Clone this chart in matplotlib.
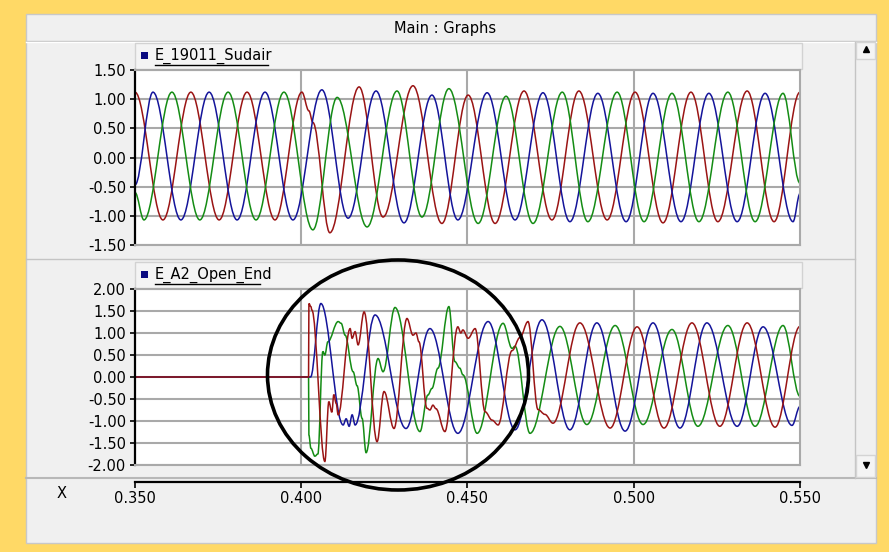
import matplotlib
matplotlib.use("Agg")
import matplotlib.pyplot as plt
from matplotlib.path import Path
from matplotlib.patches import PathPatch, Rectangle, Ellipse
from matplotlib.lines import Line2D

# ---- dados (extremos de cada fase, tempo em s) ----
# painel superior: E_19011_Sudair
sud_red_t = [0.3500, 0.3584, 0.3668, 0.3753, 0.3837, 0.3921, 0.4002, 0.4023, 0.4035, 0.4086,
             0.4174, 0.4246, 0.4336, 0.4423, 0.4502, 0.4583, 0.4670, 0.4754, 0.4835, 0.4920,
             0.5004, 0.5088, 0.5172, 0.5253, 0.5341, 0.5422, 0.5500]
sud_red_v = [1.12, -1.07, 1.12, -1.07, 1.12, -1.07, 1.12, 0.80, 0.60, -1.29,
             1.21, -1.02, 1.23, -1.13, 1.07, -1.13, 1.14, -1.07, 1.14, -1.07,
             1.12, -1.12, 1.12, -1.10, 1.14, -1.10, 1.12]
sud_blue_t = [0.3500, 0.3554, 0.3638, 0.3723, 0.3807, 0.3891, 0.3975, 0.4062, 0.4141, 0.4225,
              0.4309, 0.4393, 0.4471, 0.4559, 0.4643, 0.4727, 0.4808, 0.4892, 0.4977, 0.5058,
              0.5142, 0.5226, 0.5311, 0.5395, 0.5479, 0.5500]
sud_blue_v = [-0.47, 1.12, -1.07, 1.12, -1.07, 1.12, -1.07, 1.16, -1.04, 1.14,
              -1.12, 1.07, -1.07, 1.11, -1.07, 1.11, -1.10, 1.10, -1.10, 1.10,
              -1.10, 1.10, -1.10, 1.10, -1.10, -0.62]
sud_green_t = [0.3500, 0.3527, 0.3611, 0.3695, 0.3780, 0.3864, 0.3948, 0.4035, 0.4108, 0.4198,
               0.4288, 0.4363, 0.4444, 0.4532, 0.4616, 0.4697, 0.4785, 0.4862, 0.4950, 0.5031,
               0.5115, 0.5196, 0.5283, 0.5365, 0.5449, 0.5500]
sud_green_v = [-0.60, -1.07, 1.12, -1.07, 1.12, -1.07, 1.12, -1.24, 1.03, -1.19,
               1.14, -1.02, 1.18, -1.13, 1.05, -1.13, 1.12, -1.10, 1.12, -1.10,
               1.10, -1.10, 1.12, -1.10, 1.10, -0.44]

# painel inferior: E_A2_Open_End
ope_red_t = [0.3500, 0.4022, 0.4023, 0.4029, 0.4032, 0.4071, 0.4083, 0.4092, 0.4098, 0.4105,
             0.4111, 0.4147, 0.4153, 0.4162, 0.4171, 0.4189, 0.4228, 0.4249, 0.4279, 0.4318,
             0.4336, 0.4345, 0.4354, 0.4378, 0.4387, 0.4396, 0.4405, 0.4432, 0.4471, 0.4480,
             0.4486, 0.4502, 0.4523, 0.4553, 0.4574, 0.4592, 0.4634, 0.4658, 0.4682, 0.4712,
             0.4733, 0.4757, 0.4838, 0.4929, 0.5010, 0.5091, 0.5175, 0.5259, 0.5341, 0.5425,
             0.5500]
ope_red_v = [0, 0, 1.67, 1.60, 1.52, -1.92, -0.56, -0.80, -0.40, -0.60,
             -0.86, 1.10, 0.88, 1.03, 0.73, 1.48, -1.47, -0.33, -1.17, 1.33,
             0.95, 1.00, 0.80, -0.71, -0.75, -0.64, -0.72, -1.24, 1.14, 1.00,
             1.07, 0.88, 1.10, -0.79, -0.98, -1.09, 0.60, 0.90, 1.26, -0.74,
             -0.85, -1.05, 1.23, -1.16, 1.14, -1.16, 1.23, -1.12, 1.23, -1.14,
             1.15]
ope_blue_t = [0.3500, 0.4028, 0.4059, 0.4126, 0.4135, 0.4144, 0.4153, 0.4162, 0.4222, 0.4315,
              0.4387, 0.4471, 0.4562, 0.4643, 0.4724, 0.4808, 0.4889, 0.4974, 0.5058, 0.5139,
              0.5220, 0.5311, 0.5389, 0.5476, 0.5500]
ope_blue_v = [0, 0, 1.67, -1.09, -0.95, -1.12, -0.86, -1.09, 1.41, -1.17,
              1.10, -1.28, 1.26, -1.20, 1.30, -1.20, 1.23, -1.23, 1.23, -1.16,
              1.23, -1.12, 1.14, -1.10, -0.67]
ope_green_t = [0.3500, 0.4022, 0.4023, 0.4029, 0.4041, 0.4050, 0.4065, 0.4071, 0.4080, 0.4111,
               0.4120, 0.4132, 0.4156, 0.4168, 0.4183, 0.4195, 0.4231, 0.4246, 0.4282, 0.4357,
               0.4381, 0.4393, 0.4411, 0.4444, 0.4462, 0.4477, 0.4486, 0.4529, 0.4607, 0.4634,
               0.4643, 0.4688, 0.4778, 0.4859, 0.4944, 0.5028, 0.5115, 0.5193, 0.5283, 0.5365,
               0.5449, 0.5500]
ope_green_v = [0, 0, -1.32, -1.62, -1.80, -1.75, 0.58, 0.50, 0.80, 1.26,
               1.22, 0.95, 0.12, -0.20, -0.94, -1.72, 0.42, 0.12, 1.58, -1.24,
               -0.41, -0.26, 0.20, 1.60, 0.35, 0.20, 0.05, -1.28, 1.22, 0.65,
               0.70, -1.28, 1.15, -1.08, 1.17, -1.08, 1.08, -1.12, 1.17, -1.12,
               1.17, -0.44]

sud_ticks = [-1.5, -1.0, -0.5, 0.0, 0.5, 1.0, 1.5]
ope_ticks = [-2.0, -1.5, -1.0, -0.5, 0.0, 0.5, 1.0, 1.5, 2.0]
x_ticks = [0.35, 0.40, 0.45, 0.50, 0.55]
titulos = ["E_19011_Sudair", "E_A2_Open_End"]

W, H = 889, 552
AZUL, VERMELHO, VERDE = '#14149a', '#9a1414', '#148c14'
GRADE = '#a9a9a9'
FONTE = 10.5


def box(x0, y0, x1, y1):
    # caixa em pixels da imagem -> fração da figura
    return [x0 / W, 1 - y1 / H, (x1 - x0) / W, (y1 - y0) / H]


def fx(x):
    return x / W


def fy(y):
    return 1 - y / H


def curva(ts, vs, k=0.36):
    # curva suave pelos extremos lidos (bezier desenhada pelo próprio matplotlib)
    verts = [(ts[0], vs[0])]
    codes = [Path.MOVETO]
    for i in range(1, len(ts)):
        dt = ts[i] - ts[i - 1]
        verts += [(ts[i - 1] + k * dt, vs[i - 1]), (ts[i] - k * dt, vs[i]), (ts[i], vs[i])]
        codes += [Path.CURVE4] * 3
    return Path(verts, codes)


def retangulo(x0, y0, x1, y1, fc, ec='none', lw=1.0, z=-5):
    r = Rectangle((fx(x0), fy(y1)), (x1 - x0) / W, (y1 - y0) / H, transform=fig.transFigure,
                  facecolor=fc, edgecolor=ec, linewidth=lw, zorder=z)
    fig.add_artist(r)


def linha(xs, ys, cor, lw=1.0, z=-4):
    fig.add_artist(Line2D([fx(x) for x in xs], [fy(y) for y in ys], transform=fig.transFigure,
                          color=cor, lw=lw, zorder=z))


fig = plt.figure(figsize=(W / 100, H / 100), dpi=100, facecolor='#ffd966')

# janela
retangulo(26, 14, 876, 543, '#f0f0f0', '#c8c8c8')
linha([26, 876], [41, 41], '#c4c4c4')
linha([26, 876], [42, 42], '#ffffff')
fig.text(fx(445), fy(28), "Main : Graphs", ha='center', va='center', fontsize=FONTE)

# separadores dos painéis e barra de rolagem
linha([26, 855], [259.5, 259.5], '#c4c4c4')
linha([26, 876], [478, 478], '#b8b8b8', lw=1.5)
linha([855, 855], [42, 478], '#c4c4c4')
retangulo(856, 42, 875, 59, '#f4f4f4', '#d4d4d4', z=-4)
retangulo(856, 455, 875, 477, '#f4f4f4', '#d4d4d4', z=-4)
fig.add_artist(Line2D([fx(866)], [fy(49)], transform=fig.transFigure, marker='^',
                      markersize=4, color='black', lw=0))
fig.add_artist(Line2D([fx(866)], [fy(465)], transform=fig.transFigure, marker='v',
                      markersize=4, color='black', lw=0))

# cabeçalhos com o nome de cada gráfico
for y0, y1, nome in [(43, 69, titulos[0]), (262, 288, titulos[1])]:
    retangulo(135, y0, 802, y1, '#f4f4f4', '#d2d2d2', z=-4)
    retangulo(141, y0 + 9, 148, y0 + 16, '#0a0a80', z=-3)
    t = fig.text(fx(155), fy(y0 + 13), nome, ha='left', va='center', fontsize=FONTE)
    largura = len(nome) * 8.1
    linha([155, 155 + largura], [y0 + 22, y0 + 22], 'black', lw=1.0, z=-3)

paineis = [
    (box(135, 70, 800, 245), sud_ticks,
     [(sud_red_t, sud_red_v, VERMELHO), (sud_blue_t, sud_blue_v, AZUL), (sud_green_t, sud_green_v, VERDE)]),
    (box(135, 289, 800, 465), ope_ticks,
     [(ope_green_t, ope_green_v, VERDE), (ope_blue_t, ope_blue_v, AZUL), (ope_red_t, ope_red_v, VERMELHO)]),
]

for pos, ticks, series in paineis:
    ax = fig.add_axes(pos)
    ax.set_facecolor('white')
    for ts, vs, cor in series:
        ax.add_patch(PathPatch(curva(ts, vs), facecolor='none', edgecolor=cor, lw=1.1))
    ax.set_xlim(x_ticks[0], x_ticks[-1])
    ax.set_ylim(ticks[0], ticks[-1])
    ax.set_yticks(ticks)
    ax.set_yticklabels(['%.2f' % v for v in ticks], fontsize=FONTE)
    ax.set_xticks(x_ticks[1:-1])
    ax.tick_params(axis='x', length=0, labelbottom=False)
    ax.tick_params(axis='y', direction='out', length=3.5, width=1.2, pad=3, colors='black')
    ax.grid(True, color=GRADE, lw=1.5)
    ax.set_axisbelow(True)
    for lado in ['top', 'right', 'bottom']:
        ax.spines[lado].set_color(GRADE)
        ax.spines[lado].set_linewidth(1.5)
    ax.spines['left'].set_color('black')
    ax.spines['left'].set_linewidth(1.6)

# eixo x comum
axx = fig.add_axes(box(135, 470, 800, 482))
axx.patch.set_visible(False)
axx.set_xlim(x_ticks[0], x_ticks[-1])
axx.set_xticks(x_ticks)
axx.set_xticklabels(['%.3f' % v for v in x_ticks], fontsize=FONTE)
axx.set_yticks([])
for lado in ['top', 'right', 'left']:
    axx.spines[lado].set_visible(False)
axx.spines['bottom'].set_linewidth(1.6)
axx.tick_params(axis='x', direction='out', length=4.5, width=1.2, pad=2)
fig.text(fx(62), fy(493), "X", ha='center', va='center', fontsize=FONTE)

# círculo destacando o transitório
fig.add_artist(Ellipse((fx(398), fy(375)), 261 / W, 230 / H, transform=fig.transFigure,
                       facecolor='none', edgecolor='black', lw=2.6, zorder=10))

fig.savefig("out.png", dpi=100, facecolor=fig.get_facecolor())
